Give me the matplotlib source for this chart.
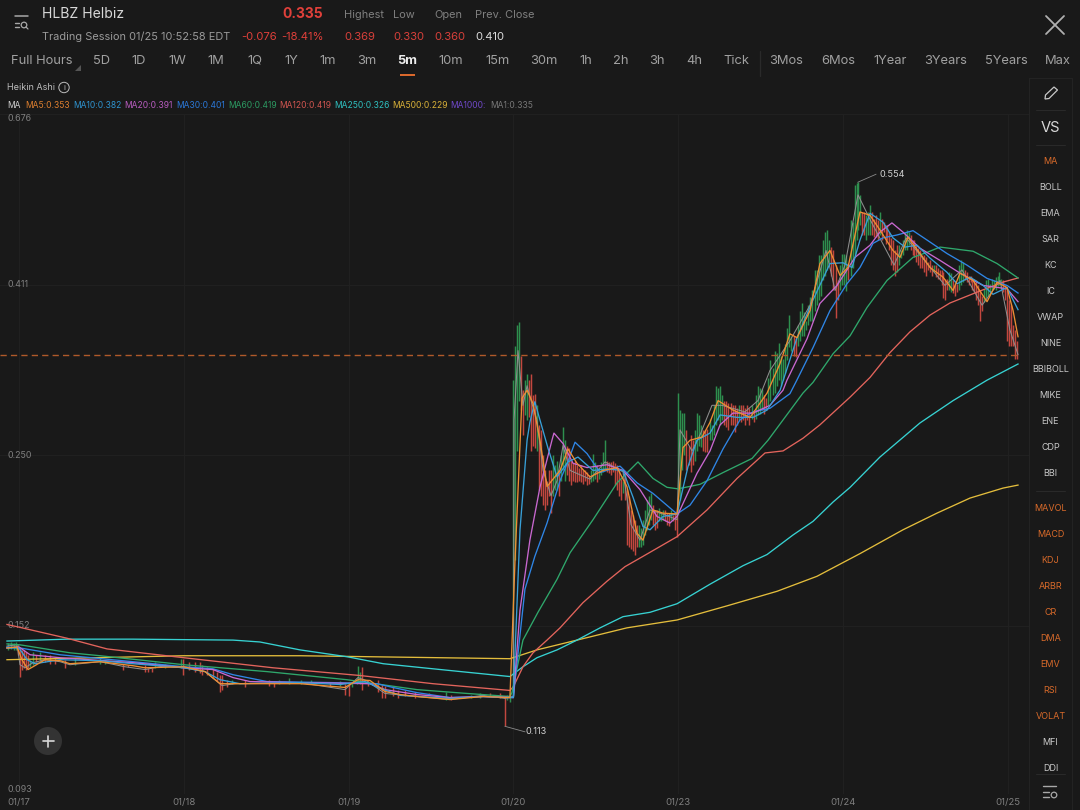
#!/usr/bin/env python3
"""HLBZ 5 minute Heikin Ashi chart with moving averages, dark trading app layout."""

import matplotlib
matplotlib.use('Agg')
import matplotlib.pyplot as plt
from matplotlib.collections import LineCollection
from matplotlib.patches import Circle, Polygon, Rectangle
import numpy as np

plt.rcParams['font.family'] = ['Inter', 'DejaVu Sans']

BG = '#191919'
GRID = '#212121'
GREEN = '#2e8f4e'
RED = '#c2473f'

# ---- price axis ----
y_ticks = [0.676, 0.411, 0.250, 0.152, 0.093]
y_labels = ['0.676', '0.411', '0.250', '0.152', '0.093']
day_labels = ['01/17', '01/18', '01/19', '01/20', '01/23', '01/24', '01/25']
last_price = 0.335

# ---- quiet stretch, 01/17 to 01/19, only the visible wicks ----
quiet_x = [-.067, -.049, -.030, -.018, -.006, .006, .018, .030, .043, .055,
           .067, .085, .103, .127, .158, .188, .218, .279, .340, .492,
           .522, .631, .661, .765, .783, .807, .825, .886, .995, .983,
           1.03, 1.07, 1.10, 1.11, 1.14, 1.18, 1.20, 1.22, 1.23, 1.26,
           1.29, 1.37, 1.52, 1.55, 1.58, 1.64, 1.71, 1.77, 1.89, 1.95,
           1.98, 2.00, 2.02, 2.05, 2.06, 2.07, 2.08, 2.12, 2.18, 2.20,
           2.22, 2.27, 2.30, 2.34, 2.40, 2.49, 2.59, 2.62, 2.74, 2.80,
           2.86, 2.92, 2.95, 2.96, 2.98]
quiet_high = [.1445, .1449, .1445, .1449, .1441, .1424, .1416, .1416, .1408, .1396,
              .1376, .1408, .1396, .1408, .1396, .1396, .1384, .1376, .1384, .1384,
              .1376, .1360, .1356, .1356, .1344, .1344, .1368, .1360, .1380, .1380,
              .1368, .1368, .1368, .1356, .1348, .1340, .1329, .1317, .1317, .1298,
              .1298, .1298, .1298, .1287, .1298, .1306, .1298, .1298, .1291, .1295,
              .1280, .1287, .1291, .1298, .1352, .1329, .1348, .1298, .1298, .1283,
              .1276, .1269, .1261, .1261, .1254, .1250, .1254, .1240, .1243, .1250,
              .1247, .1247, .1236, .1243, .1247]
quiet_low = [.1416, .1420, .1416, .1416, .1396, .1310, .1337, .1344, .1337, .1344,
             .1348, .1356, .1368, .1368, .1368, .1360, .1360, .1344, .1356, .1360,
             .1360, .1337, .1348, .1329, .1329, .1329, .1344, .1344, .1317, .1344,
             .1337, .1329, .1325, .1317, .1317, .1306, .1295, .1254, .1258, .1269,
             .1283, .1272, .1276, .1272, .1280, .1283, .1280, .1283, .1276, .1276,
             .1243, .1236, .1269, .1280, .1287, .1283, .1261, .1276, .1254, .1232,
             .1232, .1236, .1229, .1236, .1229, .1243, .1222, .1222, .1232, .1232,
             .1236, .1229, .1133, .1225, .1218]
quiet_up = ('GGGGRRRRRR' 'GGRGRRRRGG' 'GRRRRRGGRG' 'RRRRRRRRRR'
            'GRRRGGGGRG' 'RRGGGGRRRR' 'RRRRRRGRGG' 'RRRGG')

# ---- session starting 01/20 ----
s20_high = [.311, .344, .365, .369, .334, .302, .311, .317, .311, .317,
            .298, .299, .289, .273, .269, .250, .239, .232, .239, .239,
            .250, .243, .246, .239, .250, .271, .261, .257, .255, .246,
            .244, .246, .243, .241, .243, .239, .239, .238, .236, .239,
            .251, .245, .243, .241, .245, .252, .261, .246, .245, .245,
            .246, .244, .243, .239, .233, .232, .236, .226, .222, .213,
            .210, .207, .204, .204, .202, .207, .213, .219, .222, .224,
            .216, .213, .213, .214, .212, .213, .213, .211, .211, .213,
            .210, .212, .210]
s20_low = [.1236, .184, .253, .293, .285, .265, .281, .277, .279, .253,
           .257, .255, .253, .226, .222, .216, .213, .216, .222, .211,
           .222, .226, .226, .222, .232, .239, .232, .236, .232, .229,
           .232, .231, .231, .232, .231, .230, .232, .229, .230, .231,
           .232, .233, .231, .233, .236, .238, .239, .238, .237, .236,
           .238, .229, .226, .222, .219, .224, .219, .192, .191, .190,
           .189, .187, .191, .191, .191, .192, .198, .201, .204, .207,
           .204, .201, .202, .206, .206, .207, .206, .204, .203, .207,
           .206, .201, .197]
s20_up = ('GGGGRRGGRR' 'RRGRRRRRRR' 'GGGRGGGRRR' 'RRRRRRRRRG'
          'GGRGGGGRRR' 'RRRRRGRRRR' 'RRRGGGGGGG' 'RRRGGGRRRG' 'RRR')

# ---- session starting 01/23 ----
s23_high = [.300, .285, .283, .283, .269, .257, .265, .261, .269, .283,
            .281, .273, .269, .269, .270, .278, .273, .289, .306, .304,
            .306, .298, .293, .293, .291, .291, .289, .289, .287, .289,
            .289, .289, .287, .289, .287, .289, .285, .298, .306, .304,
            .303, .298, .295, .313, .330, .322, .339, .337, .347, .334,
            .331, .346, .362, .376, .354, .354, .352, .365, .381, .389,
            .379, .370, .387, .396, .404, .429, .429, .448, .448, .468,
            .479, .482, .468, .458, .454, .435, .416, .435, .450, .450,
            .448, .438]
s23_low = [.210, .219, .239, .250, .239, .243, .238, .243, .246, .253,
           .257, .256, .253, .252, .252, .261, .261, .265, .273, .277,
           .273, .277, .273, .271, .269, .273, .273, .267, .273, .277,
           .275, .277, .273, .277, .273, .278, .275, .278, .281, .282,
           .285, .282, .285, .289, .293, .298, .300, .306, .311, .306,
           .311, .318, .330, .343, .339, .334, .333, .344, .349, .354,
           .354, .360, .365, .370, .370, .381, .387, .393, .398, .416,
           .422, .429, .435, .422, .404, .373, .393, .404, .410, .410,
           .403, .416]
s23_up = ('GGGGRRRRGG' 'GGRRRGGGGG' 'GGRRRRRRRG' 'RRRRRGRGGG'
          'GRRGGGGGGG' 'GGGGGRRGGG' 'GGGGGGGGGG' 'GGGRRRRGGG' 'GR')

# ---- session starting 01/24 ----
s24_high = [.496, .493, .550, .553, .554, .534, .508, .508, .503, .508,
            .518, .508, .497, .503, .496, .508, .497, .493, .489, .489,
            .479, .471, .468, .454, .461, .461, .454, .468, .479, .482,
            .479, .475, .468, .468, .461, .457, .454, .448, .448, .445,
            .439, .441, .435, .435, .435, .431, .429, .429, .426, .418,
            .418, .426, .425, .416, .412, .412, .435, .441, .439, .429,
            .426, .422, .422, .418, .418, .416, .410, .404, .398, .406,
            .416, .418, .412, .418, .416, .420, .422, .426, .418, .416,
            .410, .404, .393, .387, .365, .360, .349]
s24_low = [.422, .431, .448, .468, .482, .489, .475, .475, .468, .475,
           .475, .475, .472, .472, .468, .475, .468, .479, .463, .468,
           .454, .435, .429, .422, .426, .435, .444, .448, .454, .454,
           .461, .454, .448, .445, .439, .435, .431, .431, .426, .422,
           .429, .426, .422, .426, .420, .418, .416, .410, .395, .393,
           .404, .404, .402, .401, .398, .402, .404, .410, .414, .416,
           .414, .410, .414, .404, .402, .393, .387, .370, .381, .391,
           .395, .398, .402, .404, .406, .404, .409, .410, .406, .402,
           .393, .349, .344, .344, .344, .331, .331]
s24_up = ('GGGGGGRRGG' 'GRRRRGRRRR' 'RRRRRGGGGG' 'GRRRRRRRRR'
          'RRRGRRRRRR' 'RGGRRRGGGR' 'RRRRRRRRRG' 'GGGGGGGGGR' 'RRRRRRR')

# ---- moving averages, x is in sessions since 01/17 ----
ma500_x = [-.073, 1.0, 1.705, 2.979, 3.143, 3.386, 3.689, 3.993, 4.296, 4.6, 4.842, 5.103, 5.364, 5.57, 5.771, 5.971, 6.062]
ma500_y = [.1376, .1392, .1392, .1380, .1416, .1457, .151, .1545, .161, .168, .1755, .1875, .201, .211, .2205, .227, .229]

ma250_x = [-.073, .291, .692, 1.299, 1.462, 1.705, 1.99, 2.21, 2.512, 2.979, 3.058, 3.143, 3.265, 3.386, 3.526, 3.665, 3.829, 3.993,
           4.193, 4.393, 4.539, 4.697, 4.818, 4.94, 5.043, 5.224, 5.467, 5.668, 5.874, 6.062]
ma250_y = [.1453, .1461, .1461, .1457, .1449, .1416, .1388, .1360, .1340, .1310, .1348, .1384, .1416, .1457, .151, .156, .158, .162,
           .1715, .181, .187, .198, .206, .218, .2275, .2485, .2745, .293, .311, .326]

ma120_x = [-.073, .006, .291, .534, 1.0, 1.541, 2.069, 2.512, 2.979, 3.0, 3.058, 3.119, 3.204, 3.283, 3.422, 3.568, 3.677, 3.786, 3.993,
           4.175, 4.357, 4.527, 4.636, 4.757, 4.86, 5.043, 5.164, 5.285, 5.406, 5.528, 5.649, 5.813, 5.971, 6.062]
ma120_y = [.1525, .1512, .1465, .142, .1384, .1344, .1314, .1283, .1258, .1272, .1348, .1404, .1457, .151, .1625, .173, .1805, .186, .197,
           .213, .2335, .2515, .253, .2625, .273, .296, .3135, .337, .358, .376, .3895, .402, .414, .419]

ma60_x = [-.073, .006, .309, .492, 1.0, 1.505, 1.99, 2.415, 2.718, 2.979, 2.991, 3.058, 3.149, 3.265, 3.344, 3.483, 3.629, 3.756, 3.847, 3.932,
          3.999, 4.132, 4.272, 4.448, 4.545, 4.757, 4.818, 4.94, 5.043, 5.146, 5.267, 5.425, 5.51, 5.589, 5.789, 5.935, 6.062]
ma60_y = [.1441, .1437, .1404, .1392, .1356, .1329, .1298, .1261, .1247, .1236, .125, .1457, .158, .174, .188, .207, .2305, .245, .2335, .2275,
          .2265, .2295, .2375, .2475, .261, .2995, .309, .336, .354, .3845, .416, .445, .4515, .4585, .453, .437, .419]

ma30_x = [-.073, .006, .249, .692, 1.0, 1.177, 1.299, 1.505, 1.905, 2.172, 2.269, 2.415, 2.615, 2.816, 2.979, 3.0,
          3.07, 3.13, 3.204, 3.283, 3.33, 3.374, 3.447, 3.526, 3.647, 3.75, 3.847, 3.993, 4.072, 4.175, 4.272, 4.375,
          4.454, 4.557, 4.678, 4.72, 4.818, 4.921, 5.024, 5.103, 5.182, 5.243, 5.328, 5.425, 5.51, 5.631, 5.752, 5.874, 5.995, 6.062]
ma30_y = [.1428, .1424, .1396, .1368, .1348, .1340, .1317, .1291, .1287, .1283, .1269, .1250, .1232, .1236, .1232, .1236,
          .169, .186, .205, .232, .245, .2595, .251, .2375, .242, .2305, .2235, .2105, .216, .232, .2545, .277,
          .2835, .2865, .299, .311, .342, .381, .412, .432, .4635, .471, .475, .481, .468, .450, .435, .4185, .410, .401]

ma20_x = [-.073, 0, .067, .249, .692, 1.0, 1.177, 1.299, 1.402, 1.705, 2.13, 2.221, 2.415, 2.615, 2.816, 3.0,
          3.04, 3.10, 3.161, 3.234, 3.246, 3.301, 3.362, 3.447, 3.568, 3.665, 3.768, 3.871, 3.95, 3.993, 4.114, 4.193, 4.254,
          4.332, 4.454, 4.557, 4.636, 4.66, 4.782, 4.86, 4.964, 5.073, 5.164, 5.224, 5.297, 5.364, 5.467, 5.589, 5.71, 5.85, 5.995, 6.062]
ma20_y = [.1424, .1428, .1396, .1384, .1364, .1344, .1337, .1306, .1291, .1287, .1283, .1261, .1243, .1232, .1236, .1232,
          .159, .195, .2275, .261, .2665, .2585, .244, .241, .243, .239, .226, .209, .205, .209, .237, .253, .273,
          .2825, .2825, .289, .302, .311, .351, .389, .410, .445, .461, .479, .492, .479, .457, .441, .425, .410, .406, .391]

ma10_x = [-.073, 0, .049, .097, .249, .492, .692, 1.0, 1.129, 1.22, 1.341, 1.705, 1.948, 2.10, 2.178, 2.312, 2.615, 2.816, 3.0,
          3.01, 3.04, 3.083, 3.10, 3.13, 3.161, 3.21, 3.265, 3.331, 3.392, 3.483, 3.568, 3.665, 3.726, 3.786, 3.829, 3.908, 3.993,
          4.059, 4.114, 4.193, 4.254, 4.357, 4.454, 4.539, 4.618, 4.721, 4.818, 4.921, 5.0, 5.055, 5.103, 5.164, 5.243,
          5.303, 5.376, 5.449, 5.528, 5.631, 5.692, 5.771, 5.85, 5.91, 5.995, 6.062]
ma10_y = [.1424, .1424, .1376, .1360, .1376, .1372, .1360, .1344, .1329, .1298, .1283, .1287, .1280, .1291, .1269, .1240, .1229, .1236, .1232,
          .1404, .201, .261, .275, .292, .277, .255, .2345, .245, .2485, .239, .240, .239, .221, .203, .201, .209, .2105,
          .2415, .261, .2665, .281, .279, .279, .285, .302, .352, .393, .437, .438, .432, .468, .506, .493,
          .471, .4585, .461, .444, .426, .412, .420, .410, .3995, .4075, .382]

ma5_x = [-.073, -.012, .018, .055, .085, .158, .249, .309, .492, .692, .765, 1.0, 1.129, 1.22, 1.311, 1.705, 1.978, 2.057, 2.13, 2.221, 2.312, 2.415, 2.615, 2.816, 2.979,
         3.01, 3.052, 3.083, 3.119, 3.161, 3.204, 3.283, 3.331, 3.386, 3.465, 3.544, 3.629, 3.689, 3.75, 3.786, 3.847, 3.908, 3.993,
         4.029, 4.072, 4.145, 4.193, 4.242, 4.332, 4.436, 4.539, 4.618, 4.678, 4.721, 4.80, 4.86, 4.921, 4.982, 5.03,
         5.103, 5.164, 5.224, 5.303, 5.346, 5.394, 5.467, 5.528, 5.607, 5.668, 5.71, 5.789, 5.874, 5.935, 5.995, 6.032, 6.062]
ma5_y = [.1424, .1428, .1376, .1337, .1348, .1376, .1372, .1360, .1368, .1352, .1344, .1348, .1329, .1283, .1283, .1283, .1269, .1298, .1295, .1254, .1243, .1236, .1225, .1236, .1232,
         .184, .295, .302, .2905, .261, .228, .239, .2545, .244, .2345, .239, .241, .228, .199, .195, .213, .211, .2105,
         .2555, .261, .2635, .275, .293, .285, .279, .2995, .3265, .356, .352, .381, .437, .454, .422, .432,
         .508, .503, .482, .454, .445, .472, .450, .432, .420, .404, .425, .416, .391, .414, .4075, .381, .353]

ma1_x = [-.073, -.012, .006, .036, .085, .158, .249, .309, .492, .643, .765, .886, 1.0, 1.129, 1.232, 1.311, 1.705, 1.978, 2.057, 2.106, 2.221, 2.415, 2.615, 2.816, 2.949, 3.0,
         3.004, 3.028, 3.058, 3.083, 3.107, 3.143, 3.18, 3.228, 3.265, 3.301, 3.344, 3.465, 3.556, 3.665, 3.714, 3.768, 3.829, 3.92, 3.993,
         4.011, 4.084, 4.132, 4.205, 4.266, 4.405, 4.484, 4.557, 4.678, 4.80, 4.897, 4.952, 5.012, 5.091, 5.164, 5.31, 5.383, 5.619, 5.722, 5.844, 5.953, 6.013, 6.062]
ma1_y = [.1432, .1437, .1356, .1344, .1364, .1376, .1368, .1356, .1368, .1348, .1337, .1352, .1344, .1329, .1276, .1283, .1287, .1261, .1306, .1295, .1247, .1236, .1225, .1240, .1229, .1236,
         .277, .339, .289, .306, .293, .277, .239, .222, .232, .257, .239, .233, .245, .238, .204, .195, .213, .210, .207,
         .269, .253, .265, .289, .289, .2835, .293, .320, .349, .387, .454, .404, .435, .534, .497, .435, .471, .410, .429, .387, .416, .360, .335]

# colour of each average, and its legend label with pixel left edge
ma_lines = [
    (ma500_x, ma500_y, '#e3bd3c'),
    (ma250_x, ma250_y, '#37d2d2'),
    (ma120_x, ma120_y, '#e3645c'),
    (ma60_x, ma60_y, '#2fa86c'),
    (ma30_x, ma30_y, '#2f86e6'),
    (ma20_x, ma20_y, '#c968d0'),
    (ma10_x, ma10_y, '#38a0d8'),
    (ma5_x, ma5_y, '#ee8f33'),
]
legend_items = [
    ('MA', '#d0d0d0', 7), ('MA5:0.353', '#dd7f2f', 25), ('MA10:0.382', '#2f93cf', 73),
    ('MA20:0.391', '#b85cc0', 124), ('MA30:0.401', '#2b78d8', 176), ('MA60:0.419', '#2c9a62', 228),
    ('MA120:0.419', '#d05550', 279), ('MA250:0.326', '#2fc0c0', 334), ('MA500:0.229', '#d8b038', 392),
    ('MA1000:', '#6f48c8', 450), ('MA1:0.335', '#777777', 490),
]

fig = plt.figure(figsize=(10.8, 8.1), dpi=100, facecolor=BG)


def px_axes(x0, y0, x1, y1):
    # axes from a pixel box measured from the top left corner
    return fig.add_axes([x0 / 1080, 1 - y1 / 810, (x1 - x0) / 1080, (y1 - y0) / 810])


# ---- price chart ----
ax = px_axes(0, 114, 1030, 794)
ax.set_facecolor(BG)
ax.set_yscale('log')
ax.set_ylim(0.093, 0.676)
ax.set_xlim(-19 / 164.8, 1011 / 164.8)
for s in ax.spines.values():
    s.set_visible(False)
ax.set_yticks(y_ticks)
ax.set_yticklabels([])
ax.minorticks_off()
ax.set_xticks(range(len(day_labels)))
ax.set_xticklabels(day_labels, fontsize=6.9, color='#7f7f7f')
ax.tick_params(length=0, pad=3)
ax.grid(True, color=GRID, lw=0.7)
ax.set_axisbelow(True)

trans = ax.get_yaxis_transform()
for val, lab in zip(y_ticks, y_labels):
    # first and last labels sit just inside the plot edges
    va = 'top' if val == y_ticks[0] else 'bottom' if val == y_ticks[-1] else 'center'
    ax.text(0.0068, val, lab, transform=trans, ha='left', va=va, fontsize=6.4, color='#7f7f7f', zorder=2)


def draw_bars(x, high, low, up):
    segs = [[(a, l), (a, h)] for a, h, l in zip(x, high, low)]
    cols = [GREEN if c == 'G' else RED for c in up]
    ax.add_collection(LineCollection(segs, colors=cols, linewidths=1.05, zorder=3))


draw_bars(quiet_x, quiet_high, quiet_low, quiet_up)
draw_bars(np.linspace(3.0, 3.993, len(s20_high)), s20_high, s20_low, s20_up)
draw_bars(np.linspace(3.999, 5.031, len(s23_high)), s23_high, s23_low, s23_up)
draw_bars(np.linspace(5.047, 6.055, len(s24_high)), s24_high, s24_low, s24_up)

ax.plot(ma1_x, ma1_y, color='#8e8e8e', lw=0.75, zorder=4)
for xs, ys, col in ma_lines:
    ax.plot(xs, ys, color=col, lw=0.95, zorder=5, solid_joinstyle='round')

ax.plot([-19 / 164.8, 6.062], [last_price, last_price], color='#b05a2a', lw=1.0, dashes=(4.5, 3), zorder=6)

# high and low markers
ax.plot([5.09, 5.2], [0.554, 0.567], color='#8a8a8a', lw=0.6, zorder=6)
ax.text(5.22, 0.567, '0.554', fontsize=6.6, color='#d0d0d0', va='center', zorder=6)
ax.plot([2.949, 3.07], [0.1133, 0.1115], color='#8a8a8a', lw=0.6, zorder=6)
ax.text(3.075, 0.1115, '0.113', fontsize=6.6, color='#d0d0d0', va='center', zorder=6)

# ---- application chrome, drawn in pixel coordinates ----
ui = fig.add_axes([0, 0, 1, 1], zorder=10)
ui.set_xlim(0, 1080)
ui.set_ylim(810, 0)
ui.axis('off')
ui.patch.set_alpha(0)


def label(x, y, s, size, color, ha='left', **kw):
    ui.text(x, y, s, fontsize=size, color=color, ha=ha, va='center', **kw)


def stroke(xs, ys, color='#a8a8a8', lw=1.0):
    ui.plot(xs, ys, color=color, lw=lw, solid_capstyle='round')


# header
stroke([14.5, 27.5], [16, 16], lw=1.1)
stroke([14.5, 19], [22.5, 22.5], lw=1.0)
stroke([14.5, 19], [27, 27], lw=1.0)
ui.add_patch(Circle((24, 25), 2.8, fill=False, ec='#a8a8a8', lw=0.9))
stroke([26, 28], [27, 29], lw=0.9)

label(42, 14.5, 'HLBZ Helbiz', 10.1, '#d8d8d8')
label(323, 14.5, '0.335', 10.0, '#e0403a', ha='right', fontweight='bold')
for x, s in zip([344, 393, 434, 475], ['Highest', 'Low', 'Open', 'Prev. Close']):
    label(x, 14.5, s, 7.9, '#808080')
label(42, 37, 'Trading Session 01/25 10:52:58 EDT', 7.9, '#9a9a9a')
label(241, 37, '-0.076', 8.1, '#e0403a')
label(281, 37, '-18.41%', 8.1, '#e0403a')
for x, s in zip([344, 393, 434], ['0.369', '0.330', '0.360']):
    label(x, 37, s, 8.1, '#d8403a')
label(475, 37, '0.410', 8.1, '#dcdcdc')
stroke([1046, 1064], [16, 34], color='#b0b0b0', lw=1.3)
stroke([1046, 1064], [34, 16], color='#b0b0b0', lw=1.3)

# period tabs
tabs = ['5D', '1D', '1W', '1M', '1Q', '1Y', '1m', '3m', '5m', '10m', '15m', '30m', '1h', '2h', '3h', '4h', 'Tick',
        '3Mos', '6Mos', '1Year', '3Years', '5Years', 'Max']
tab_x = [102, 139, 177, 216, 255, 291, 328, 367, 407, 451, 498, 544, 586, 621, 657, 694, 736,
         786, 838, 890, 946, 1006, 1058]
label(11, 60.5, 'Full Hours', 9.3, '#a0a0a0')
ui.add_patch(Polygon([[81, 65], [81, 71], [75, 71]], closed=True, fc='#555555', ec='none'))
for x, s in zip(tab_x, tabs):
    if s == '5m':
        label(x, 60.5, s, 9.3, '#ececec', ha='center', fontweight='bold')
    else:
        label(x, 60.5, s, 9.3, '#a0a0a0', ha='center')
ui.add_patch(Rectangle((399.5, 74), 15.5, 1.8, fc='#d9682c', ec='none'))
stroke([760, 760], [51, 76], color='#2a2a2a', lw=0.9)

# indicator row
label(7, 87.5, 'Heikin Ashi', 6.5, '#bdbdbd')
ui.add_patch(Circle((64, 87.5), 5.2, fill=False, ec='#bdbdbd', lw=0.7))
label(64, 87.5, 'i', 5.6, '#bdbdbd', ha='center')
for s, col, x in legend_items:
    label(x, 105, s, 6.1, col)

# side panel
ui.add_patch(Rectangle((1029, 78), 43, 740, fill=False, ec='#232323', lw=0.8))
stroke([1036, 1065], [110, 110], color='#2a2a2a', lw=0.7)
stroke([1036, 1065], [145, 145], color='#2a2a2a', lw=0.7)
stroke([1036, 1065], [491, 491], color='#2a2a2a', lw=0.7)
stroke([1036, 1065], [773.5, 773.5], color='#2a2a2a', lw=0.7)
ui.add_patch(Polygon([[1045, 99], [1045.5, 95], [1054, 87], [1057.5, 90], [1049, 98.5]], closed=True,
                     fill=False, ec='#c8c8c8', lw=0.9))
label(1050.5, 128.5, 'VS', 10.6, '#d8d8d8', ha='center')

side_names = ['MA', 'BOLL', 'EMA', 'SAR', 'KC', 'IC', 'VWAP', 'NINE', 'BBIBOLL', 'MIKE', 'ENE', 'CDP', 'BBI',
              'MAVOL', 'MACD', 'KDJ', 'ARBR', 'CR', 'DMA', 'EMV', 'RSI', 'VOLAT', 'MFI', 'DDI']
side_y = [161.7, 187.7, 213.7, 239.7, 265.7, 291.7, 317.7, 343.7, 369.7, 395.7, 421.7, 447.7, 473.7,
          508.7, 534.7, 560.7, 586.7, 612.7, 638.7, 664.7, 690.7, 716.7, 742.7, 768.7]
side_active = ['MA', 'MAVOL', 'MACD', 'KDJ', 'ARBR', 'CR', 'DMA', 'EMV', 'RSI', 'VOLAT']
for y, s in zip(side_y, side_names):
    label(1050.5, y, s, 6.5, '#d86a2a' if s in side_active else '#c8c8c8', ha='center')

stroke([1043, 1056], [786, 786], lw=1.0)
stroke([1043, 1049], [792, 792], lw=1.0)
stroke([1043, 1049], [797, 797], lw=1.0)
ui.add_patch(Circle((1054, 795), 2.8, fill=False, ec='#a8a8a8', lw=0.9))

# add button
ui.add_patch(Circle((48, 741), 14, fc='#333333', ec='none'))
stroke([42.5, 53.5], [741, 741], color='#d8d8d8', lw=1.2)
stroke([48, 48], [735.5, 746.5], color='#d8d8d8', lw=1.2)

plt.savefig('out.png', dpi=100, facecolor=BG)
